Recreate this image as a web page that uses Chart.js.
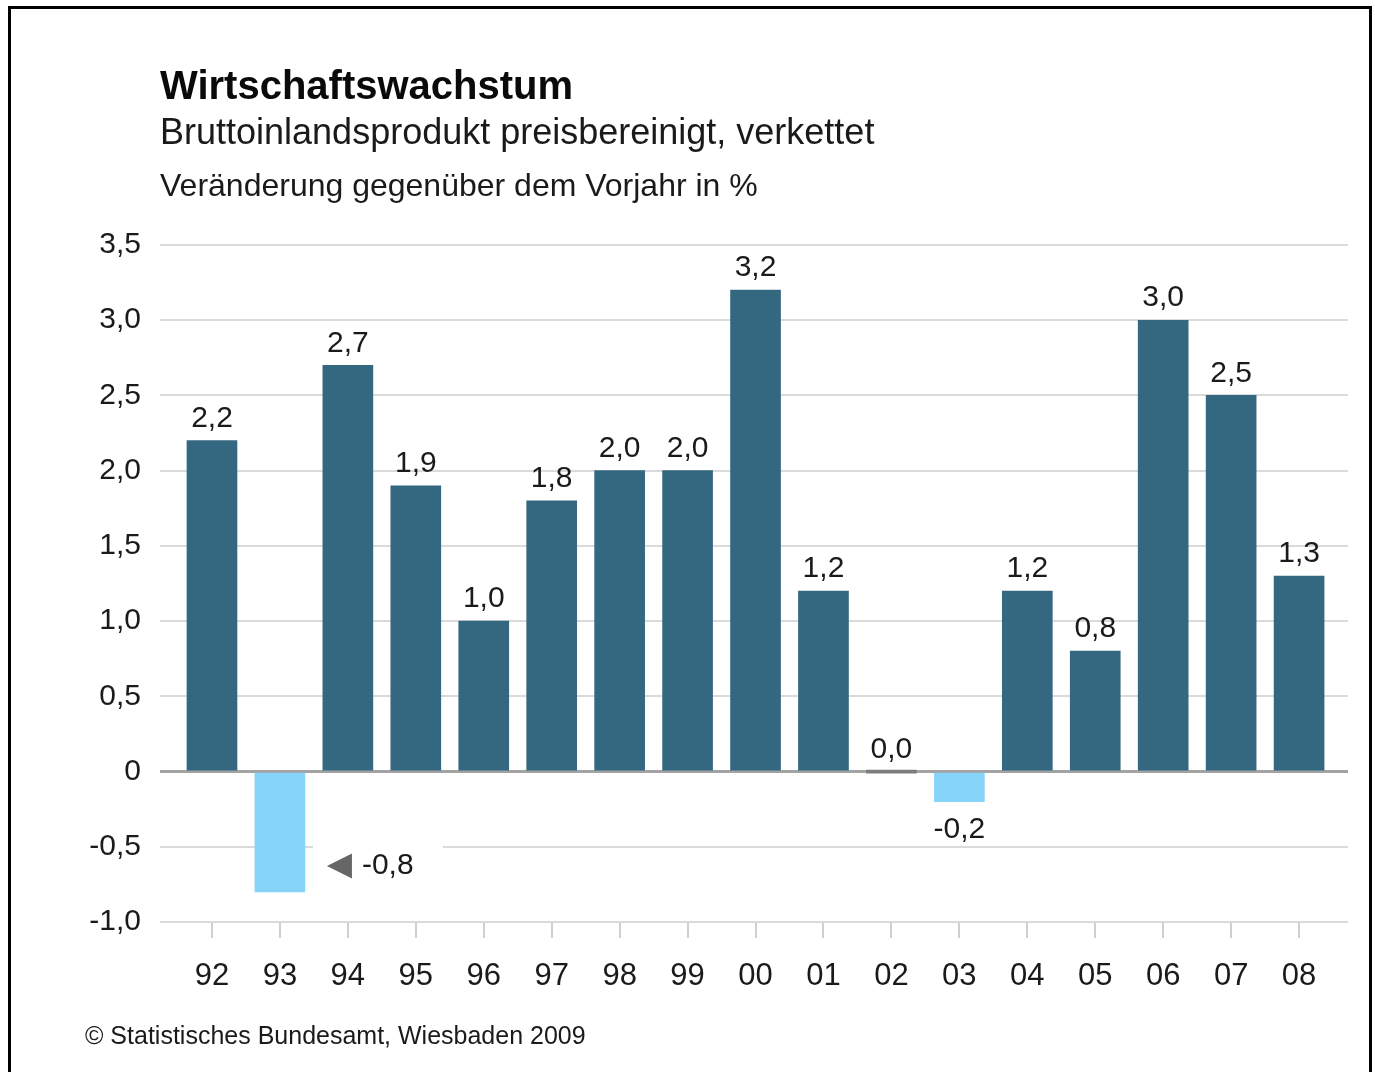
<!DOCTYPE html>
<html lang="de">
<head>
<meta charset="utf-8">
<title>Wirtschaftswachstum</title>
<script src="https://cdn.jsdelivr.net/npm/chart.js@4/dist/chart.umd.min.js"></script>
<style>
  body { margin: 0; background: #fff; font-family: "Liberation Sans", Arial, sans-serif; color: #111; }
  #wrap { position: relative; width: 1375px; height: 1072px; overflow: hidden; }
  #frame { position: absolute; left: 8px; top: 6px; width: 1358px; height: 1080px; border: 3px solid #000; }
  .txt { position: absolute; left: 160px; line-height: 1; white-space: nowrap; }
  #title { top: 65px; font-size: 40px; font-weight: bold; color: #0a0a0a; }
  #subtitle { top: 114px; font-size: 36px; color: #1a1a1a; }
  #unit { top: 169px; font-size: 32px; color: #1a1a1a; }
  #source { left: 85px; top: 1023px; font-size: 25px; color: #1a1a1a; }
  #chart { position: absolute; left: 0; top: 0; }
</style>
</head>
<body>
<div id="wrap">
  <div id="frame"></div>
  <canvas id="chart" width="1375" height="1072"></canvas>
  <div class="txt" id="title">Wirtschaftswachstum</div>
  <div class="txt" id="subtitle">Bruttoinlandsprodukt preisbereinigt, verkettet</div>
  <div class="txt" id="unit">Veränderung gegenüber dem Vorjahr in %</div>
  <div class="txt" id="source">© Statistisches Bundesamt, Wiesbaden 2009</div>
</div>
<script>
// Jahre (zweistellig) und Veränderung gegenüber Vorjahr in %
const years = ["92", "93", "94", "95", "96", "97", "98", "99", "00", "01", "02", "03", "04", "05", "06", "07", "08"];
const growth = [2.2, -0.8, 2.7, 1.9, 1.0, 1.8, 2.0, 2.0, 3.2, 1.2, 0.0, -0.2, 1.2, 0.8, 3.0, 2.5, 1.3];
const yTicks = [-1.0, -0.5, 0, 0.5, 1.0, 1.5, 2.0, 2.5, 3.0, 3.5];

const FONT = '"Liberation Sans", Arial, sans-serif';
const DARK = "#346780";
const LIGHT = "#87d4fb";
const ZERO = "#7d7d7d";

function fmt(v) {
  return v.toFixed(1).replace(".", ",");
}

// Index des Balkens, der seitlich mit Pfeil beschriftet wird (kleinster Wert)
const calloutIndex = growth.indexOf(Math.min(...growth));

const valueLabels = {
  id: "valueLabels",
  afterDatasetsDraw(chart) {
    const ctx = chart.ctx;
    const meta = chart.getDatasetMeta(0);
    const yScale = chart.scales.y;
    ctx.save();
    ctx.font = "30px " + FONT;
    ctx.fillStyle = "#1a1a1a";
    meta.data.forEach((bar, i) => {
      const v = growth[i];
      const py = yScale.getPixelForValue(v);
      if (i === calloutIndex) {
        const right = bar.x + bar.width / 2;
        const ty = py - 26;
        // weisser Hintergrund unterbricht die Gitterlinie
        ctx.fillStyle = "#fff";
        ctx.fillRect(right + 8, ty - 24, 130, 40);
        ctx.fillStyle = "#666";
        ctx.beginPath();
        ctx.moveTo(right + 22, ty);
        ctx.lineTo(right + 47, ty - 12.5);
        ctx.lineTo(right + 47, ty + 12.5);
        ctx.closePath();
        ctx.fill();
        ctx.fillStyle = "#1a1a1a";
        ctx.textAlign = "left";
        ctx.textBaseline = "middle";
        ctx.fillText(fmt(v), right + 57, ty);
      } else {
        ctx.textAlign = "center";
        ctx.textBaseline = "middle";
        ctx.fillText(fmt(v), bar.x, v < 0 ? py + 28 : py - 22);
      }
    });
    ctx.restore();
  }
};

new Chart(document.getElementById("chart"), {
  type: "bar",
  data: {
    datasets: [{
      data: growth.map((v, i) => ({ x: i, y: v })),
      backgroundColor: growth.map(v => v < 0 ? LIGHT : (v === 0 ? ZERO : DARK)),
      barThickness: 50,
      minBarLength: 3,
      borderWidth: 0
    }]
  },
  options: {
    responsive: false,
    animation: false,
    layout: { padding: { top: 245, right: 27, bottom: 80, left: 0 } },
    plugins: { legend: { display: false }, tooltip: { enabled: false } },
    scales: {
      x: {
        type: "linear",
        offset: false,
        min: -0.765,
        max: 16.72,
        afterBuildTicks: s => { s.ticks = years.map((_, i) => ({ value: i })); },
        afterFit: s => { s.height = 70; },
        border: { display: false },
        grid: { offset: false, drawOnChartArea: false, drawTicks: true, tickLength: 16, color: "#cfcfcf", lineWidth: 2 },
        ticks: {
          callback: v => years[v],
          font: { family: FONT, size: 31 },
          color: "#1a1a1a",
          padding: 20,
          maxRotation: 0,
          autoSkip: false
        }
      },
      y: {
        min: -1,
        max: 3.5,
        afterBuildTicks: s => { s.ticks = yTicks.map(v => ({ value: v })); },
        afterFit: s => { s.width = 160; },
        border: { display: false },
        grid: {
          drawTicks: false,
          color: c => c.tick.value === 0 ? "#a3a3a3" : "#dadada",
          lineWidth: c => c.tick.value === 0 ? 3 : 2
        },
        ticks: {
          callback: v => v === 0 ? "0" : fmt(v),
          font: { family: FONT, size: 30 },
          color: "#1a1a1a",
          padding: 19
        }
      }
    }
  },
  plugins: [valueLabels]
});
</script>
</body>
</html>
